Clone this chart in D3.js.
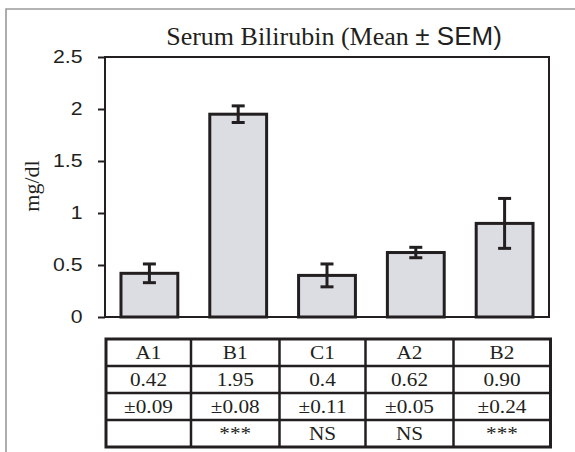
<!DOCTYPE html>
<html>
<head>
<meta charset="utf-8">
<title>Serum Bilirubin</title>
<script src="https://cdn.jsdelivr.net/npm/d3@7"></script>
<style>
  body {margin: 0; background: #fff;}
  .bar {fill: #dcdde3; stroke: #231f20; stroke-width: 3;}
  .err {stroke: #231f20; stroke-width: 3; fill: none;}
</style>
</head>
<body>
<svg id="chart" width="575" height="452"></svg>
<script>
// data
var groups = ["A1", "B1", "C1", "A2", "B2"];
var means = [0.42, 1.95, 0.4, 0.62, 0.90];
var sems = [0.09, 0.08, 0.11, 0.05, 0.24];
var meanLabels = ["0.42", "1.95", "0.4", "0.62", "0.90"];
var semLabels = ["\u00b10.09", "\u00b10.08", "\u00b10.11", "\u00b10.05", "\u00b10.24"];
var sigLabels = ["", "***", "NS", "NS", "***"];
var yTicks = [0, 0.5, 1, 1.5, 2, 2.5];
var yTickLabels = ["0", "0.5", "1", "1.5", "2", "2.5"];

var serif = "'Liberation Serif', 'Times New Roman', Times, serif";
var sans = "'Liberation Sans', Arial, Helvetica, sans-serif";

var svg = d3.select("#chart");
var plot = {left: 105, right: 549, top: 57, bottom: 317};
var ink = "#231f20";

// outer frame (only top and left edges visible)
svg.append("path")
  .attr("d", "M6,452V9H575")
  .attr("fill", "none")
  .attr("stroke", "#9a9a9a")
  .attr("stroke-width", 1.6);

var x = d3.scaleBand()
  .domain(groups)
  .range([plot.left, plot.right])
  .paddingInner(0.36)
  .paddingOuter(0.18);

var y = d3.scaleLinear()
  .domain([0, 2.5])
  .range([plot.bottom, plot.top]);

// plot box
svg.append("rect")
  .attr("x", plot.left).attr("y", plot.top)
  .attr("width", plot.right - plot.left)
  .attr("height", plot.bottom - plot.top)
  .attr("fill", "none").attr("stroke", ink).attr("stroke-width", 2);

var yAxis = svg.append("g")
  .attr("transform", "translate(" + plot.left + ",0)")
  .call(d3.axisLeft(y).tickValues(yTicks).tickSize(7)
    .tickFormat(function(d, i) { return yTickLabels[i]; }));
yAxis.attr("font-size", null).attr("font-family", null);
yAxis.select(".domain").remove();
yAxis.selectAll(".tick line").attr("stroke", ink).attr("stroke-width", 2);
yAxis.selectAll(".tick text")
  .attr("x", 0)
  .attr("fill", ink)
  .style("font-family", sans)
  .style("font-size", "18px")
  .attr("transform", "translate(-22.5,0) scale(1.18,1)");

// bars
svg.selectAll(".bar")
  .data(groups)
  .enter().append("rect")
  .attr("class", "bar")
  .attr("x", function(d) { return x(d); })
  .attr("y", function(d, i) { return y(means[i]); })
  .attr("width", x.bandwidth())
  .attr("height", function(d, i) { return y(0) - y(means[i]); });

// error bars
var capW = 13;
var eg = svg.selectAll(".errg")
  .data(groups)
  .enter().append("g")
  .attr("class", "errg");
eg.append("line").attr("class", "err")
  .attr("x1", function(d) { return x(d) + x.bandwidth() / 2; })
  .attr("x2", function(d) { return x(d) + x.bandwidth() / 2; })
  .attr("y1", function(d, i) { return y(means[i] - sems[i]); })
  .attr("y2", function(d, i) { return y(means[i] + sems[i]); });
[1, -1].forEach(function(s) {
  eg.append("line").attr("class", "err")
    .attr("x1", function(d) { return x(d) + x.bandwidth() / 2 - capW / 2; })
    .attr("x2", function(d) { return x(d) + x.bandwidth() / 2 + capW / 2; })
    .attr("y1", function(d, i) { return y(means[i] + s * sems[i]); })
    .attr("y2", function(d, i) { return y(means[i] + s * sems[i]); });
});

// title
var title = svg.append("text")
  .attr("x", 334).attr("y", 45)
  .attr("text-anchor", "middle")
  .attr("fill", ink)
  .style("font-size", "26px");
title.append("tspan")
  .style("font-family", serif)
  .text("Serum Bilirubin (Mean ");
title.append("tspan")
  .style("font-family", sans)
  .text("\u00b1 SEM)");

// y label
svg.append("text")
  .attr("transform", "translate(38.5,186) rotate(-90)")
  .attr("text-anchor", "middle")
  .attr("fill", ink)
  .style("font-family", serif)
  .style("font-size", "22px")
  .text("mg/dl");

// table under the chart
var tbl = {left: 106, top: 339, rowH: 27};
var colW = [85, 88.5, 86, 88, 97];
var colX = [tbl.left];
colW.forEach(function(w, i) { colX.push(colX[i] + w); });
var rows = [groups, meanLabels, semLabels, sigLabels];

var tg = svg.append("g").attr("class", "tbl");
tg.append("rect")
  .attr("x", tbl.left).attr("y", tbl.top)
  .attr("width", colX[colX.length - 1] - tbl.left)
  .attr("height", tbl.rowH * rows.length)
  .attr("fill", "none").attr("stroke", ink).attr("stroke-width", 3);
tg.selectAll(".vline")
  .data(colX.slice(1, -1))
  .enter().append("line")
  .attr("x1", function(d) { return d; }).attr("x2", function(d) { return d; })
  .attr("y1", tbl.top).attr("y2", tbl.top + tbl.rowH * rows.length)
  .attr("stroke", ink).attr("stroke-width", 2.5);
tg.selectAll(".hline")
  .data(d3.range(1, rows.length))
  .enter().append("line")
  .attr("x1", tbl.left).attr("x2", colX[colX.length - 1])
  .attr("y1", function(d) { return tbl.top + d * tbl.rowH; })
  .attr("y2", function(d) { return tbl.top + d * tbl.rowH; })
  .attr("stroke", ink).attr("stroke-width", 2.5);

rows.forEach(function(row, r) {
  tg.selectAll(".r" + r)
    .data(row)
    .enter().append("text")
    .attr("text-anchor", "middle")
    .attr("fill", ink)
    .style("font-family", serif)
    .style("font-size", "18px")
    .attr("transform", function(d, i) {
      return "translate(" + (colX[i] + colW[i] / 2) + "," + (tbl.top + r * tbl.rowH + 20) + ") scale(1.18,1)";
    })
    .text(function(d) { return d; });
});
</script>
</body>
</html>
